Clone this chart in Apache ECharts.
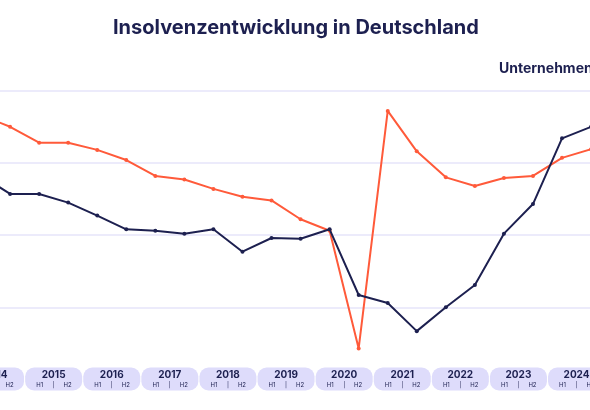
<!DOCTYPE html>
<html>
<head>
<meta charset="utf-8">
<script src="https://cdn.jsdelivr.net/npm/echarts@6/dist/echarts.min.js"></script>
<style>
  html, body { margin: 0; padding: 0; background: #fff; }
  #main { width: 590px; height: 410px; overflow: hidden; }
</style>
</head>
<body>
<div id="main"></div>
<script>
// half-year periods (2014 H1 .. 2024 H2)
const halfYears = [
  "2014 H1", "2014 H2", "2015 H1", "2015 H2", "2016 H1", "2016 H2",
  "2017 H1", "2017 H2", "2018 H1", "2018 H2", "2019 H1", "2019 H2",
  "2020 H1", "2020 H2", "2021 H1", "2021 H2", "2022 H1", "2022 H2",
  "2023 H1", "2023 H2", "2024 H1", "2024 H2",
]
const years = ["2014", "2015", "2016", "2017", "2018", "2019", "2020", "2021", "2022", "2023", "2024"]

// values (index scale, no axis labels shown)
const verbraucher = [36.6, 35.0, 32.8, 32.8, 31.8, 30.4, 28.2, 27.7, 26.4, 25.3, 24.8, 22.2,
  20.6, 4.3, 37.2, 31.6, 28.0, 26.8, 27.9, 28.2, 30.7, 31.9]
const unternehmen = [28.3, 25.7, 25.7, 24.5, 22.7, 20.8, 20.6, 20.2, 20.8, 17.7, 19.6, 19.5,
  20.8, 11.7, 10.6, 6.7, 10.0, 13.1, 20.2, 24.3, 33.4, 35.0]

const navy = "#1d2050"
const red = "#ff5a3a"

const myChart = echarts.init(document.getElementById("main"))

myChart.setOption({
  animation: false,
  title: {
    text: "Insolvenzentwicklung in Deutschland",
    left: 108,
    top: 13,
    textStyle: { fontFamily: "Inter", fontWeight: 700, fontSize: 20, color: navy },
  },
  graphic: [
    {
      type: "text",
      left: 499,
      top: 62,
      style: { text: "Unternehmen", fontFamily: "Inter", fontWeight: 700, fontSize: 14, fill: navy },
    },
  ],
  grid: { left: -33.5, right: -15.6, top: 90.7, bottom: 30.5, outerBoundsMode: "none", containLabel: false },
  xAxis: [
    {
      type: "category",
      data: halfYears,
      boundaryGap: true,
      axisLine: { show: false },
      axisTick: { show: false },
      axisLabel: { show: false },
    },
    {
      type: "category",
      data: years,
      position: "bottom",
      boundaryGap: true,
      axisLine: { show: false },
      axisTick: { show: false },
      axisLabel: {
        interval: 0,
        hideOverlap: false,
        margin: -12,
        backgroundColor: "#dedcfb",
        borderRadius: 9,
        width: 53,
        padding: [1, 2, 1, 2],
        align: "center",
        formatter: (v) => `{y|${v}}\n{a|H1}{b||}{c|H2}`,
        rich: {
          y: { fontFamily: "Inter", fontWeight: 700, fontSize: 10, lineHeight: 12, color: navy, align: "center" },
          a: { fontFamily: "Inter", fontSize: 6, lineHeight: 9, color: navy, width: 22, align: "center" },
          b: { fontFamily: "Inter", fontSize: 6, lineHeight: 9, color: navy, width: 6, align: "center" },
          c: { fontFamily: "Inter", fontSize: 6, lineHeight: 9, color: navy, width: 22, align: "center" },
        },
      },
    },
  ],
  yAxis: {
    type: "value",
    min: 0,
    max: 40,
    interval: 10,
    axisLabel: { show: false },
    axisLine: { show: false },
    axisTick: { show: false },
    splitLine: { showMinLine: false, lineStyle: { color: "#e6e4fa", width: 1.5 } },
  },
  series: [
    {
      name: "Verbraucher",
      type: "line",
      data: verbraucher,
      symbol: "circle",
      symbolSize: 4,
      lineStyle: { color: red, width: 2 },
      itemStyle: { color: red },
      z: 2,
    },
    {
      name: "Unternehmen",
      type: "line",
      data: unternehmen,
      symbol: "circle",
      symbolSize: 4,
      lineStyle: { color: navy, width: 2 },
      itemStyle: { color: navy },
      z: 3,
    },
  ],
})
</script>
</body>
</html>
